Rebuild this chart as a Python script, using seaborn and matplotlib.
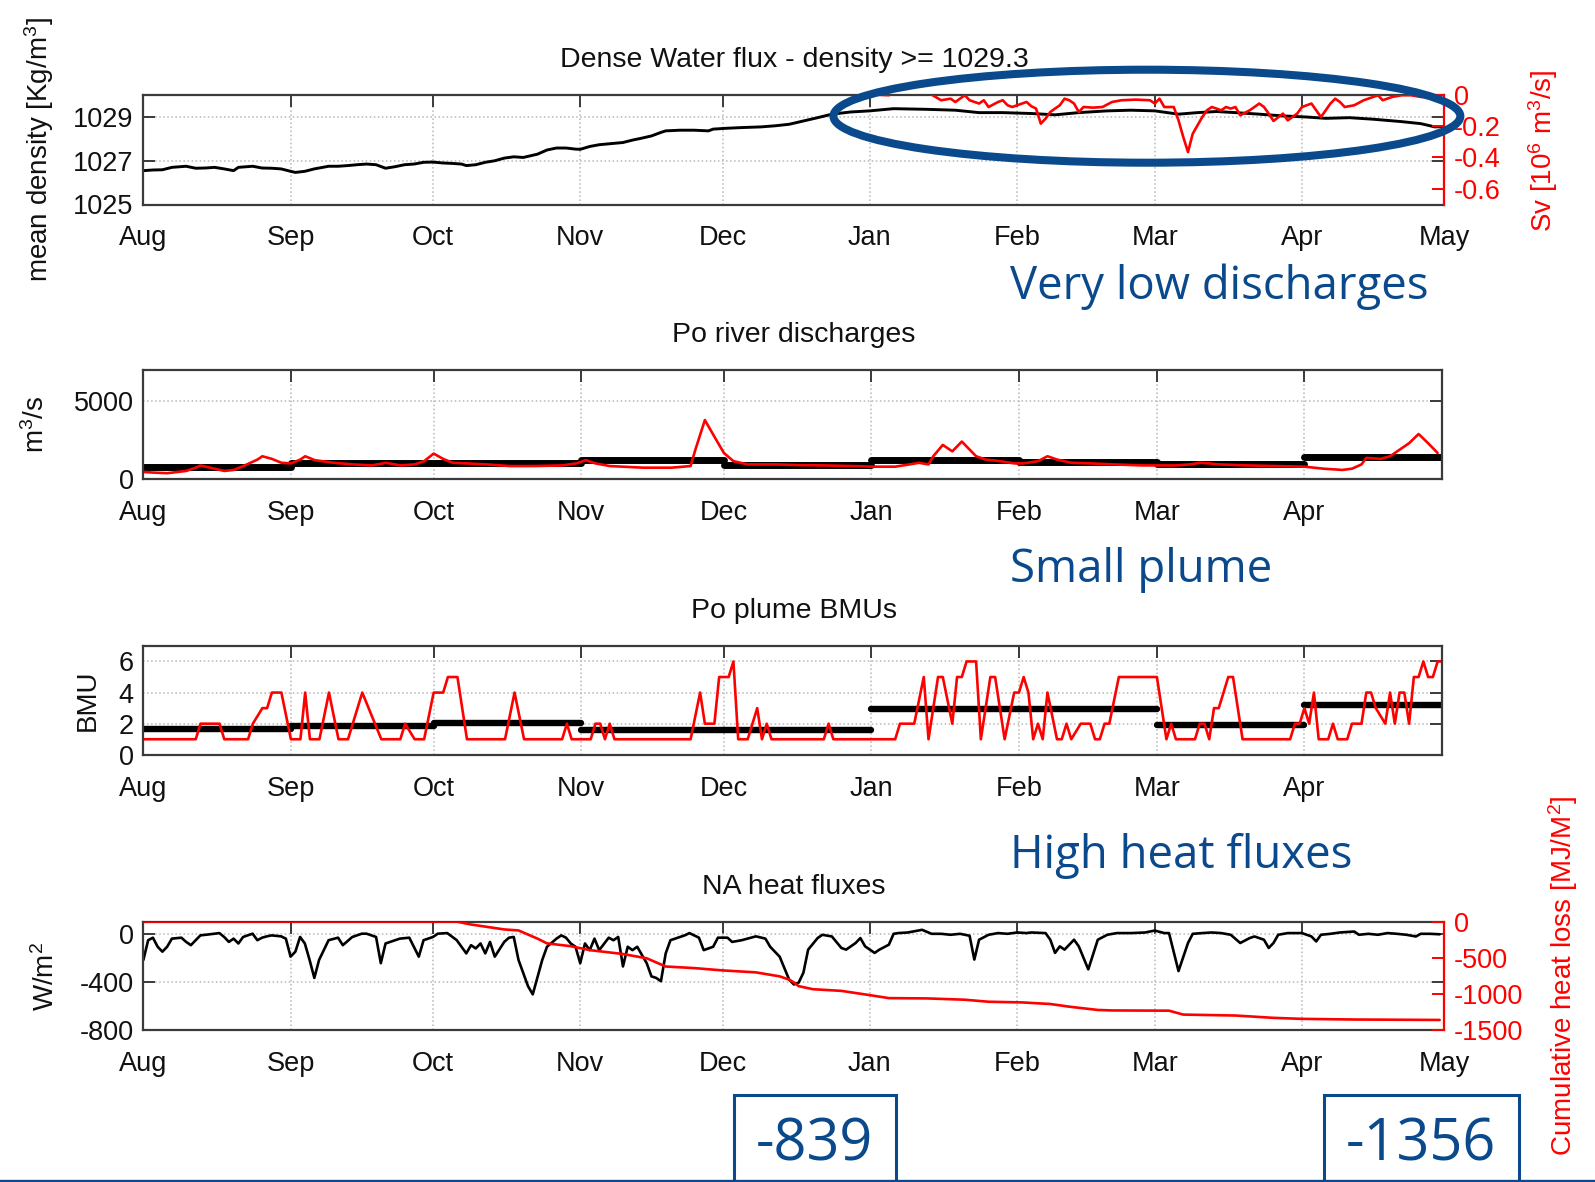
import numpy as np
import pandas as pd
import matplotlib
matplotlib.use("Agg")
import matplotlib.pyplot as plt
import matplotlib.dates as mdates
import matplotlib.patches as mpatches
import matplotlib.lines as mlines
import seaborn as sns

sns.set_theme(style="white")
plt.rcParams["font.family"] = ["Liberation Sans", "DejaVu Sans"]
plt.rcParams["mathtext.fontset"] = "custom"
plt.rcParams["mathtext.rm"] = "Liberation Sans"
plt.rcParams["mathtext.it"] = "Liberation Sans:italic"
plt.rcParams["mathtext.bf"] = "Liberation Sans:bold"

# ---------------------------------------------------------------- data
# time axis: days counted from 1 August
START = pd.Timestamp("2011-08-01")
END_FULL = 274   # 1 May
END_SHORT = 273  # 30 April
month_labels = ["Aug", "Sep", "Oct", "Nov", "Dec", "Jan", "Feb", "Mar", "Apr", "May"]

# mean density of the dense water [kg/m3]
dens_day = [0, 2, 4, 6, 9, 11, 13, 15, 17, 19, 20, 23, 25, 27, 29, 31, 32, 34, 36, 39,
            41, 43, 45, 47, 49, 51, 53, 55, 57, 59, 61, 63, 65, 67, 68, 70, 72, 74, 76, 78,
            80, 83, 85, 87, 89, 91, 92, 94, 96, 99, 101, 103, 105, 107, 109, 110, 113, 116,
            119, 120, 123, 126, 130, 133, 136, 138, 142, 145, 149, 153, 158, 165, 171, 176,
            181, 187, 192, 197, 203, 208, 213, 218, 222, 226, 230, 235, 240, 245, 249, 254,
            259, 265, 269, 272, 274]
dens_val = [1026.54, 1026.57, 1026.58, 1026.69, 1026.74, 1026.65, 1026.66, 1026.69, 1026.62,
            1026.54, 1026.69, 1026.74, 1026.66, 1026.65, 1026.62, 1026.51, 1026.46, 1026.51,
            1026.62, 1026.74, 1026.74, 1026.77, 1026.81, 1026.84, 1026.81, 1026.65, 1026.72,
            1026.81, 1026.84, 1026.92, 1026.93, 1026.89, 1026.87, 1026.84, 1026.77, 1026.81,
            1026.92, 1026.99, 1027.11, 1027.17, 1027.14, 1027.29, 1027.48, 1027.57, 1027.57,
            1027.52, 1027.51, 1027.64, 1027.72, 1027.78, 1027.82, 1027.93, 1028.02, 1028.12,
            1028.28, 1028.35, 1028.38, 1028.38, 1028.35, 1028.43, 1028.47, 1028.50, 1028.53,
            1028.58, 1028.65, 1028.75, 1028.95, 1029.11, 1029.21, 1029.26, 1029.36, 1029.33,
            1029.29, 1029.18, 1029.18, 1029.14, 1029.08, 1029.18, 1029.26, 1029.29, 1029.26,
            1029.11, 1029.18, 1029.23, 1029.18, 1029.11, 1029.03, 1028.98, 1028.92, 1028.95,
            1028.88, 1028.77, 1028.68, 1028.53, 1028.55]

# dense water flux [Sv]
flux_day = [150, 154, 157, 159, 165, 166, 168, 170, 171, 173, 174, 176, 177, 178, 180, 181,
            182, 183, 184, 186, 187, 188, 189, 190, 191, 192, 193, 194, 195, 196, 197, 198,
            200, 202, 204, 206, 209, 212, 213, 214, 215, 217, 218, 219, 220, 221, 223, 224,
            225, 226, 227, 228, 229, 230, 231, 233, 234, 235, 236, 237, 238, 240, 241, 243,
            244, 246, 247, 248, 250, 251, 252, 253, 255, 257, 259, 260, 261, 263, 265, 267,
            269, 271, 273]
flux_val = [0.03, 0.0, -0.004, 0.03, 0.03, 0.0, -0.036, -0.026, -0.047, -0.004, -0.036,
            -0.057, -0.036, -0.079, -0.047, -0.036, -0.068, -0.079, -0.068, -0.047, -0.074,
            -0.089, -0.185, -0.153, -0.111, -0.089, -0.068, -0.026, -0.036, -0.057, -0.111,
            -0.079, -0.083, -0.079, -0.047, -0.036, -0.032, -0.036, -0.057, -0.026, -0.079,
            -0.079, -0.164, -0.270, -0.366, -0.249, -0.143, -0.100, -0.079, -0.089, -0.100,
            -0.079, -0.089, -0.079, -0.132, -0.100, -0.079, -0.057, -0.079, -0.121, -0.168,
            -0.121, -0.164, -0.121, -0.079, -0.057, -0.100, -0.143, -0.057, -0.026, -0.047,
            -0.079, -0.068, -0.036, -0.015, -0.004, -0.036, -0.015, -0.004, -0.004, -0.015,
            -0.015, 0.01]

# Po river discharge [m3/s]
po_day = [0, 2, 5, 9, 11, 12, 14, 17, 19, 21, 24, 25, 27, 29, 31, 33, 34, 36, 40, 44, 48,
          51, 54, 57, 59, 61, 63, 65, 68, 72, 77, 82, 88, 91, 93, 95, 98, 105, 111, 115, 116,
          118, 120, 122, 124, 127, 133, 138, 143, 149, 153, 158, 161, 163, 165, 166, 168,
          170, 172, 175, 177, 180, 183, 185, 188, 190, 192, 195, 199, 204, 210, 217, 220,
          222, 224, 226, 232, 238, 244, 248, 252, 254, 256, 257, 260, 262, 264, 266, 268,
          270, 272]
po_val = [460, 420, 380, 525, 735, 880, 735, 525, 590, 840, 1260, 1470, 1300, 1050, 1010,
          1260, 1470, 1220, 1050, 945, 880, 1050, 880, 945, 1155, 1640, 1300, 1050, 1010, 945,
          840, 840, 880, 1010, 1220, 1010, 840, 735, 735, 840, 1890, 3800, 2730, 1680, 1155,
          945, 945, 900, 880, 840, 800, 800, 945, 1050, 945, 1470, 2200, 1785, 2415, 1470,
          1260, 1155, 1010, 1010, 1155, 1470, 1260, 1050, 1010, 945, 880, 880, 945, 1050,
          1010, 945, 880, 840, 800, 670, 590, 670, 945, 1365, 1300, 1470, 1890, 2310, 2900,
          2310, 1680]
po_monthly = [750, 1050, 1010, 1200, 930, 1260, 1070, 945, 1390]

# Po plume best matching units
bmu_day = [0, 11, 12, 16, 17, 22, 23, 25, 26, 27, 29, 31, 33, 34, 35, 37, 39, 41, 43, 46,
           50, 54, 55, 57, 59, 61, 63, 64, 66, 68, 76, 78, 80, 88, 89, 90, 94, 95, 96, 97,
           98, 99, 115, 117, 118, 120, 121, 123, 124, 125, 127, 129, 130, 131, 132, 143,
           144, 145, 158, 159, 162, 164, 165, 167, 168, 170, 171, 172, 173, 175, 176, 178,
           179, 181, 183, 184, 185, 186, 187, 188, 189, 190, 192, 193, 194, 195, 197, 199,
           200, 201, 202, 203, 205, 213, 215, 216, 217, 221, 222, 223, 224, 225, 226, 228,
           229, 231, 241, 242, 243, 244, 245, 246, 247, 249, 250, 251, 253, 254, 256, 257,
           258, 259, 261, 262, 263, 264, 265, 266, 267, 268, 269, 270, 271, 272, 273]
bmu_val = [1, 1, 2, 2, 1, 1, 2, 3, 3, 4, 4, 1, 1, 4, 1, 1, 4, 1, 1, 4,
           1, 1, 2, 1, 1, 4, 4, 5, 5, 1, 1, 4, 1, 1, 2, 1, 1, 2, 2, 1,
           2, 1, 1, 4, 2, 2, 5, 5, 6, 1, 1, 3, 1, 2, 1, 1,
           2, 1, 1, 2, 2, 5, 1, 5, 5, 2, 5, 5, 6, 6, 1, 5,
           5, 1, 4, 4, 5, 4, 1, 2, 1, 4, 1, 1, 2, 1, 2, 2,
           1, 1, 2, 2, 5, 5, 1, 2, 1, 1, 2, 2, 1, 3, 3, 5,
           5, 1, 1, 2, 2, 3, 2, 4, 1, 1, 2, 1, 1, 2, 2, 4,
           4, 3, 2, 4, 2, 4, 4, 2, 5, 5, 6, 5, 5, 6, 6]
bmu_monthly = [1.65, 1.85, 2.04, 1.58, 1.58, 2.95, 2.95, 1.94, 3.2]

# net air-sea heat flux [W/m2]
heat_day = [0, 1, 2, 3, 4, 5, 6, 8, 9, 10, 11, 12, 14, 16, 17, 18, 19, 20, 21, 23, 24, 25,
            26, 27, 29, 30, 31, 32, 33, 34, 35, 36, 37, 39, 41, 42, 44, 46, 47, 49, 50, 51,
            54, 56, 58, 59, 61, 62, 64, 66, 68, 69, 70, 71, 72, 73, 74, 76, 77, 78, 79, 81,
            82, 84, 85, 87, 88, 89, 90, 91, 92, 93, 94, 95, 96, 98, 99, 100, 101, 102, 103,
            104, 106, 107, 108, 109, 110, 111, 114, 115, 117, 118, 120, 121, 123, 124, 126,
            128, 129, 131, 132, 134, 136, 137, 138, 139, 140, 142, 143, 145, 147, 148, 150,
            151, 152, 154, 155, 157, 158, 159, 161, 164, 166, 168, 170, 172, 174, 175, 176,
            178, 180, 182, 184, 186, 187, 190, 191, 192, 193, 194, 196, 197, 199, 201, 203,
            205, 208, 211, 213, 215, 216, 218, 220, 221, 223, 225, 227, 229, 231, 233, 234,
            236, 237, 238, 239, 241, 244, 246, 247, 248, 250, 252, 255, 256, 258, 260, 262,
            264, 266, 268, 269, 271, 273]
heat_val = [-217, -54, -33, -108, -149, -108, -41, -33, -68, -95, -54, -14, -5, 5, -27, -68,
            -41, -81, -27, 0, -54, -33, -22, -14, -22, -41, -190, -149, -27, -81, -217, -366,
            -217, -54, -33, -95, -27, 0, 0, -27, -244, -81, -41, -33, -190, -54, -27, 0, 5,
            -54, -163, -95, -122, -81, -163, -68, -190, -68, -33, -27, -217, -434, -502, -217,
            -108, -41, -14, -33, -81, -108, -244, -81, -136, -41, -136, -33, -54, -27, -271,
            -108, -136, -108, -244, -353, -366, -393, -163, -54, -14, 5, -33, -136, -108, -33,
            -33, -68, -54, -33, -22, -41, -108, -190, -380, -420, -405, -323, -132, -36, -9,
            -23, -118, -132, -77, -36, -105, -159, -132, -91, -1, 5, 10, 32, -1, -1, -9, -1,
            -17, -214, -50, -9, 5, -1, 10, 5, 10, 5, -50, -159, -105, -132, -50, -105, -295,
            -50, -9, 5, 5, 10, 26, 5, 5, -309, -77, -1, 5, 10, 5, -9, -77, -36, -23, -50,
            -118, -77, -9, 5, 5, -23, -64, -9, -1, 10, 18, -9, -1, -9, 5, -1, -9, -23, -1,
            -1, -5]

# cumulative heat loss [MJ/m2]
cum_day = [0, 66, 69, 76, 79, 83, 85, 90, 94, 101, 106, 110, 116, 122, 129, 134, 136, 137,
           138, 141, 147, 153, 157, 165, 173, 178, 185, 191, 195, 201, 204, 216, 219, 230,
           238, 244, 255, 273]
cum_val = [0, 0, -40, -108, -122, -235, -300, -339, -393, -447, -506, -619, -641, -673,
           -700, -755, -800, -839, -890, -932, -955, -1014, -1055, -1059, -1077, -1105,
           -1114, -1136, -1173, -1218, -1225, -1228, -1282, -1295, -1327, -1341, -1350,
           -1356]
# days whose cumulative value is quoted in the boxes below the chart
boxed_days = [137, 273]

# ---------------------------------------------------------------- helpers
NAVY = "#0a4a8c"
SPINE = "#3a3a3a"
TICK_FS = 19.5
LABEL_FS = 20

W, H = 1595, 1182


def dates(days):
    return START + pd.to_timedelta(np.asarray(days), unit="D")


def rect(left, top, right, bottom):
    return [left / W, 1 - bottom / H, (right - left) / W, (bottom - top) / H]


def series(days, values):
    return pd.DataFrame({"date": dates(days), "value": values})


def monthly_segments(means, end_day):
    starts = pd.date_range(START, periods=len(means), freq="MS")
    ends = list(starts[1:]) + [START + pd.Timedelta(days=end_day)]
    rows = []
    for i, (s, e, m) in enumerate(zip(starts, ends, means)):
        rows.append({"date": s, "value": m, "month": i})
        rows.append({"date": e, "value": m, "month": i})
    return pd.DataFrame(rows)


def style_axes(ax, end_day, yticks, ylim, yticklabels):
    x0 = mdates.date2num(START)
    x1 = mdates.date2num(START + pd.Timedelta(days=end_day))
    ax.set_xlim(x0, x1)
    ticks = pd.date_range(START, START + pd.Timedelta(days=end_day), freq="MS")
    ax.set_xticks(mdates.date2num(ticks.to_pydatetime()))
    ax.set_xticklabels(month_labels[:len(ticks)])
    ax.set_ylim(*ylim)
    ax.set_yticks(yticks)
    ax.set_yticklabels(yticklabels)
    ax.set_xlabel("")
    ax.set_ylabel("")
    ax.grid(True, color="#b8b8b8", linestyle=":", linewidth=1.1)
    ax.tick_params(axis="both", direction="in", length=8.5, width=1.4, color=SPINE,
                   labelsize=TICK_FS, labelcolor="#111111", top=True, right=True)
    ax.tick_params(axis="x", pad=15)
    ax.tick_params(axis="y", pad=7)
    for sp in ax.spines.values():
        sp.set_color(SPINE)
        sp.set_linewidth(1.6)
    ax.set_facecolor("white")


def style_twin(ax2, ylim, yticks, yticklabels):
    ax2.set_ylim(*ylim)
    ax2.set_yticks(yticks)
    ax2.set_yticklabels(yticklabels)
    ax2.set_xlabel("")
    ax2.set_ylabel("")
    ax2.grid(False)
    ax2.tick_params(axis="y", direction="in", length=8.5, width=1.4, colors="red",
                    labelsize=TICK_FS, pad=7, left=False, right=True)
    for name, sp in ax2.spines.items():
        sp.set_visible(name == "right")
    ax2.spines["right"].set_color("red")
    ax2.spines["right"].set_linewidth(1.6)


fig = plt.figure(figsize=(W / 100, H / 100), dpi=100)
fig.patch.set_facecolor("white")

pos1 = rect(143.4, 94.6, 1444.4, 204.5)
pos2 = rect(143.4, 370.3, 1442.4, 479.1)
pos3 = rect(143.4, 645.9, 1442.4, 754.8)
pos4 = rect(143.4, 921.6, 1444.4, 1030.4)

# ---- panel 1: density and dense water flux
ax1 = fig.add_axes(pos1)
sns.lineplot(data=series(dens_day, dens_val), x="date", y="value", ax=ax1,
             color="black", linewidth=2.1)
style_axes(ax1, END_FULL, [1025, 1027, 1029], (1025, 1030), ["1025", "1027", "1029"])
ax1.spines["right"].set_visible(False)
ax1b = ax1.twinx()
sns.lineplot(data=series(flux_day, flux_val), x="date", y="value", ax=ax1b,
             color="red", linewidth=1.9)
style_twin(ax1b, (-0.7, 0), [0, -0.2, -0.4, -0.6], ["0", "-0.2", "-0.4", "-0.6"])
ax1.tick_params(right=True)

# ---- panel 2: Po discharges
ax2 = fig.add_axes(pos2)
sns.lineplot(data=monthly_segments(po_monthly, END_SHORT), x="date", y="value",
             units="month", estimator=None, ax=ax2, color="black", linewidth=5.0)
sns.lineplot(data=series(po_day, po_val), x="date", y="value", ax=ax2,
             color="red", linewidth=1.9)
style_axes(ax2, END_SHORT, [0, 5000], (0, 7000), ["0", "5000"])

# ---- panel 3: plume BMUs
ax3 = fig.add_axes(pos3)
sns.lineplot(data=monthly_segments(bmu_monthly, END_SHORT), x="date", y="value",
             units="month", estimator=None, ax=ax3, color="black", linewidth=4.6)
sns.lineplot(data=series(bmu_day, bmu_val), x="date", y="value", ax=ax3,
             color="red", linewidth=1.9)
style_axes(ax3, END_SHORT, [0, 2, 4, 6], (0, 7), ["0", "2", "4", "6"])

# ---- panel 4: heat fluxes
ax4 = fig.add_axes(pos4)
sns.lineplot(data=series(heat_day, heat_val), x="date", y="value", ax=ax4,
             color="black", linewidth=1.9)
style_axes(ax4, END_FULL, [0, -400, -800], (-800, 100), ["0", "-400", "-800"])
ax4.spines["right"].set_visible(False)
ax4b = ax4.twinx()
sns.lineplot(data=series(cum_day, cum_val), x="date", y="value", ax=ax4b,
             color="red", linewidth=1.9)
style_twin(ax4b, (-1500, 0), [0, -500, -1000, -1500], ["0", "-500", "-1000", "-1500"])
ax4.tick_params(right=True)

# ---- titles
cx = (143.4 + 1444.4) / 2 / W
titles = [("Dense Water flux - density >= 1029.3", 66.7),
          ("Po river discharges", 342.4),
          ("Po plume BMUs", 618.0),
          ("NA heat fluxes", 893.7)]
for txt, base in titles:
    fig.text(cx, 1 - base / H, txt, ha="center", va="baseline", fontsize=20.5,
             color="#111111")

# ---- axis labels
ylabels = [("mean density [Kg/m$^3$]", 39, 149.5, "#111111"),
           ("m$^3$/s", 36, 424.7, "#111111"),
           ("BMU", 87.5, 700.3, "#111111"),
           ("W/m$^2$", 46, 976.0, "#111111"),
           ("Sv [10$^6$ m$^3$/s]", 1543, 150.5, "red"),
           ("Cumulative heat loss [MJ/M$^2$]", 1563, 976.0, "red")]
for txt, x, y, c in ylabels:
    fig.text(x / W, 1 - y / H, txt, rotation=90, ha="center", va="center",
             fontsize=LABEL_FS, color=c)

# ---- highlight ellipse on the dense water panel
ell = mpatches.Ellipse((1146.9 / W, 1 - 116.2 / H), 626.9 / W, 93.0 / H,
                       transform=fig.transFigure, fill=False, edgecolor=NAVY,
                       linewidth=5.8, zorder=10)
fig.add_artist(ell)

# ---- comments in navy
notes = [("Very low discharges", 299.0), ("Small plume", 582.0), ("High heat fluxes", 868.3)]
for txt, base in notes:
    fig.text(1009.5 / W, 1 - base / H, txt, ha="left", va="baseline",
             fontsize=32.8, color=NAVY, family=["Open Sans", "DejaVu Sans"])

# ---- boxed cumulative values
cum_series = pd.Series(cum_val, index=cum_day)
boxes = [(733.6, 896.0, 814.7), (1323.6, 1518.6, 1420.4)]
for (l, r, c), d in zip(boxes, boxed_days):
    fig.add_artist(mpatches.Rectangle((l / W, 1 - 1200 / H), (r - l) / W, (1200 - 1095.4) / H,
                                      transform=fig.transFigure, fill=False,
                                      edgecolor=NAVY, linewidth=2.2, zorder=10))
    fig.text(c / W, 1 - 1160.5 / H, f"{cum_series[d]:.0f}", ha="center", va="baseline",
             fontsize=41.5, color=NAVY, family=["Open Sans", "DejaVu Sans"])

# bottom rule
fig.add_artist(mlines.Line2D([0, 1], [1 - 1180.8 / H] * 2, transform=fig.transFigure,
                             color=NAVY, linewidth=2.4))

fig.savefig("out.png", dpi=100, facecolor="white")
